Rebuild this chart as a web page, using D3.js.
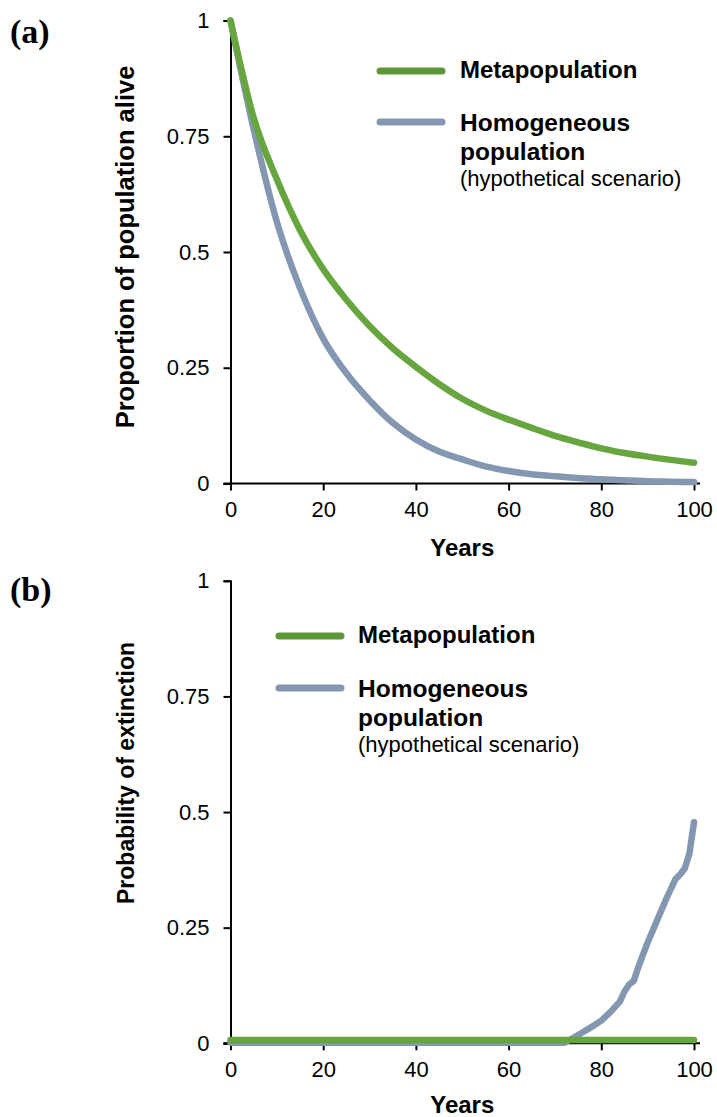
<!DOCTYPE html>
<html>
<head>
<meta charset="utf-8">
<script src="https://cdn.jsdelivr.net/npm/d3@7"></script>
<style>
  html, body { margin: 0; padding: 0; background: #fff; }
  svg { display: block; }
</style>
</head>
<body>
<svg id="chart" width="717" height="1117"></svg>
<script>
// ---------------- DATA ----------------
const years = [0, 5, 10, 15, 20, 25, 30, 35, 40, 45, 50, 55, 60, 65, 70, 75, 80, 85, 90, 95, 100];
const metaAlive   = [1.00, 0.79, 0.657, 0.547, 0.463, 0.397, 0.340, 0.292, 0.252, 0.215, 0.183, 0.158, 0.138, 0.120, 0.103, 0.089, 0.076, 0.066, 0.058, 0.051, 0.045];
const homogAlive  = [1.00, 0.765, 0.565, 0.422, 0.313, 0.238, 0.180, 0.131, 0.095, 0.069, 0.052, 0.037, 0.027, 0.020, 0.0155, 0.012, 0.009, 0.007, 0.005, 0.004, 0.003];

const extYears = [0, 72, 74, 76, 78, 80, 82, 84, 85, 86, 87, 88, 90, 92, 94, 96, 97, 98, 99, 100];
const homogExt = [0.001, 0.001, 0.012, 0.024, 0.036, 0.049, 0.068, 0.090, 0.112, 0.127, 0.135, 0.165, 0.218, 0.265, 0.312, 0.355, 0.365, 0.378, 0.410, 0.478];
const metaExtYears = [0, 100];
const metaExt = [0.007, 0.007];

const xTicks = [0, 20, 40, 60, 80, 100];
const yTicks = [0, 0.25, 0.5, 0.75, 1];
const yTickLabels = ["0", "0.25", "0.5", "0.75", "1"];

const seriesNames = ["Metapopulation", "Homogeneous"];
const legendLine2 = "population";
const legendLine3 = "(hypothetical scenario)";
const panelLabels = ["(a)", "(b)"];
const yTitles = ["Proportion of population alive", "Probability of extinction"];
const xTitle = "Years";

// ---------------- STYLE ----------------
const GREEN = "#67a53f";
const GREEN_LEG = "#5e963a";
const BLUE = "#8497b0";
const svg = d3.select("#chart");

const x = d3.scaleLinear().domain([0, 100]).range([230.5, 694]);

const panels = [
  { top: 20.5, bottom: 483.5, label: panelLabels[0], labelY: 43, title: yTitles[0], titleY: 247, titleSize: 25.5,
    legX: 380, legTextX: 460, legY1: 71, legY2: 122,
    series: [
      { xs: years, ys: homogAlive, color: BLUE, curve: d3.curveMonotoneX },
      { xs: years, ys: metaAlive, color: GREEN, curve: d3.curveMonotoneX }
    ] },
  { top: 580.8, bottom: 1043.3, label: panelLabels[1], labelY: 601, title: yTitles[1], titleY: 773, titleSize: 23,
    legX: 279, legTextX: 358, legY1: 636, legY2: 688,
    series: [
      { xs: extYears, ys: homogExt, color: BLUE, curve: d3.curveLinear },
      { xs: metaExtYears, ys: metaExt, color: GREEN, curve: d3.curveLinear }
    ] }
];

const tickFont = "'Liberation Sans', Arial, sans-serif";

panels.forEach((p, pi) => {
  const y = d3.scaleLinear().domain([0, 1]).range([p.bottom, p.top]);
  const g = svg.append("g");

  // y axis
  const yAxis = d3.axisLeft(y).tickValues(yTicks)
    .tickFormat((d, i) => yTickLabels[i]).tickSizeOuter(0).tickSize(7).tickPadding(14);
  const ya = g.append("g").attr("transform", `translate(${x(0)},0)`).call(yAxis);
  ya.select(".domain").attr("stroke", "#000").attr("stroke-width", 2);
  ya.selectAll(".tick line").attr("stroke", "#000").attr("stroke-width", 2);
  ya.selectAll(".tick text").attr("font-family", tickFont).attr("font-size", 22).attr("fill", "#000");

  // x axis
  const xAxis = d3.axisBottom(x).tickValues(xTicks).tickSizeOuter(0).tickSize(7).tickPadding(11);
  const xa = g.append("g").attr("transform", `translate(0,${p.bottom})`).call(xAxis);
  xa.select(".domain").attr("stroke", "#000").attr("stroke-width", 2)
    .attr("d", `M${x(0) - 7},0H${x(100) + 6}`);
  xa.selectAll(".tick line").attr("stroke", "#000").attr("stroke-width", 2);
  xa.selectAll(".tick text").attr("font-family", tickFont).attr("font-size", 22).attr("fill", "#000");

  // lines (drawn above axes)
  p.series.forEach(s => {
    const pts = s.xs.map((d, i) => [d, s.ys[i]]);
    g.append("path")
      .attr("d", d3.line().x(d => x(d[0])).y(d => y(d[1])).curve(s.curve)(pts))
      .attr("fill", "none")
      .attr("stroke", s.color)
      .attr("stroke-width", 6.5)
      .attr("stroke-linecap", "round")
      .attr("stroke-linejoin", "round");
  });

  // x title
  g.append("text").attr("x", (x(0) + x(100)) / 2).attr("y", p.bottom + (pi === 0 ? 72 : 70))
    .attr("text-anchor", "middle").attr("font-family", tickFont).attr("font-weight", "bold")
    .attr("font-size", 24).text(xTitle);

  // y title
  g.append("text").attr("transform", `translate(134,${p.titleY}) rotate(-90)`)
    .attr("text-anchor", "middle").attr("font-family", tickFont).attr("font-weight", "bold")
    .attr("font-size", p.titleSize).text(p.title);

  // panel label
  g.append("text").attr("x", 10).attr("y", p.labelY)
    .attr("font-family", "'Liberation Serif', 'Times New Roman', serif").attr("font-weight", "bold")
    .attr("font-size", 34).text(p.label);

  // legend
  const leg = g.append("g");
  leg.append("line").attr("x1", p.legX).attr("x2", p.legX + 62).attr("y1", p.legY1).attr("y2", p.legY1)
    .attr("stroke", GREEN_LEG).attr("stroke-width", 7).attr("stroke-linecap", "round");
  leg.append("line").attr("x1", p.legX).attr("x2", p.legX + 62).attr("y1", p.legY2).attr("y2", p.legY2)
    .attr("stroke", BLUE).attr("stroke-width", 7).attr("stroke-linecap", "round");
  leg.append("text").attr("x", p.legTextX).attr("y", p.legY1 + 6.5)
    .attr("font-family", tickFont).attr("font-weight", "bold").attr("font-size", 24).text(seriesNames[0]);
  leg.append("text").attr("x", p.legTextX).attr("y", p.legY2 + 8.5)
    .attr("font-family", tickFont).attr("font-weight", "bold").attr("font-size", 24.5).text(seriesNames[1]);
  leg.append("text").attr("x", p.legTextX).attr("y", p.legY2 + 38)
    .attr("font-family", tickFont).attr("font-weight", "bold").attr("font-size", 24.5).text(legendLine2);
  leg.append("text").attr("x", p.legTextX).attr("y", p.legY2 + 64)
    .attr("font-family", tickFont).attr("font-size", 22).text(legendLine3);
});
</script>
</body>
</html>
